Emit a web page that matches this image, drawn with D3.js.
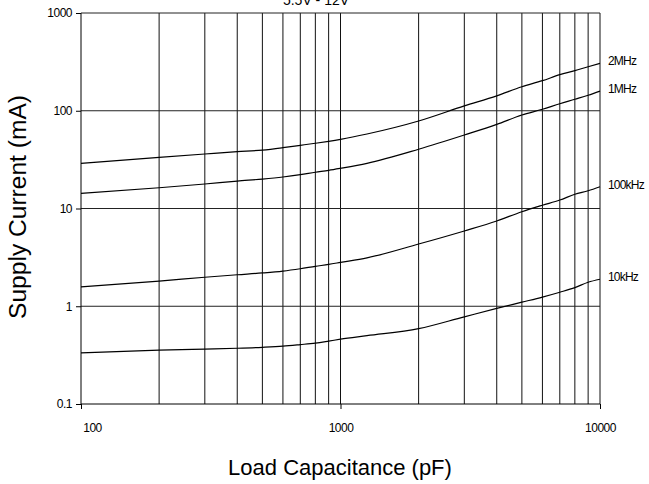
<!DOCTYPE html>
<html>
<head>
<meta charset="utf-8">
<script src="https://cdn.jsdelivr.net/npm/d3@7"></script>
<style>
  body { margin: 0; background: #fff; }
  text { font-family: "Liberation Sans", Arial, sans-serif; fill: #000; }
  .tick text { font-size: 12px; letter-spacing: -0.5px; }
  .axis path, .axis line { stroke: #000; }
</style>
</head>
<body>
<div id="chart"></div>
<script>
// load capacitance (pF)
var capacitance = [100, 200, 300, 400, 500, 600, 700, 800, 900, 1000, 1265, 2000, 3000, 4000, 5000, 6000, 7000, 8000, 9000, 10000];
// supply current (mA) for each frequency
var mhz2   = [29, 33.4, 36.1, 38.1, 39.6, 41.9, 44.3, 46.5, 48.7, 51, 57.8, 78.5, 112, 142, 176, 203, 234, 257, 282, 305];
var mhz1   = [14.3, 16.3, 17.8, 19.1, 20.0, 21.0, 22.2, 23.5, 24.6, 25.8, 29, 40.4, 56.5, 72.6, 90.5, 103.5, 118, 131, 144, 159];
var khz100 = [1.58, 1.81, 1.98, 2.10, 2.19, 2.29, 2.42, 2.56, 2.68, 2.81, 3.13, 4.33, 5.89, 7.45, 9.27, 10.8, 12.2, 14.0, 15.2, 16.7];
var khz10  = [0.333, 0.355, 0.365, 0.372, 0.38, 0.39, 0.405, 0.42, 0.44, 0.46, 0.50, 0.59, 0.78, 0.95, 1.10, 1.24, 1.39, 1.55, 1.76, 1.89];
var seriesNames = ["2MHz", "1MHz", "100kHz", "10kHz"];
var seriesValues = [mhz2, mhz1, khz100, khz10];

var xTicks = [100, 1000, 10000];
var yTicks = [0.1, 1, 10, 100, 1000];
var yTickLabels = ["0.1", "1", "10", "100", "1000"];
var xGrid = [200, 300, 400, 500, 600, 700, 800, 900, 1000, 2000, 3000, 4000, 5000, 6000, 7000, 8000, 9000, 10000];

var margin = {top: 13, right: 49, bottom: 80, left: 81};
var width = 649 - margin.left - margin.right;
var height = 484 - margin.top - margin.bottom;

var svg = d3.select("#chart").append("svg")
  .attr("width", 649)
  .attr("height", 484);

// title, mostly cut off at the top edge as in the source
svg.append("text")
  .attr("x", 316)
  .attr("y", 5)
  .attr("text-anchor", "middle")
  .style("font-size", "14px")
  .text("5.5V - 12V");

var g = svg.append("g")
  .attr("transform", "translate(" + margin.left + "," + margin.top + ")");

var xScale = d3.scaleLog().domain([100, 10000]).range([0, width]);
var yScale = d3.scaleLog().domain([0.1, 1000]).range([height, 0]);

// grid
g.selectAll(".vgrid")
  .data(xGrid)
  .enter().append("line")
  .attr("class", "vgrid")
  .attr("x1", function(d) { return xScale(d); })
  .attr("x2", function(d) { return xScale(d); })
  .attr("y1", 0)
  .attr("y2", height)
  .attr("stroke", "#111")
  .attr("stroke-width", 1);

g.selectAll(".hgrid")
  .data(yTicks.slice(1))
  .enter().append("line")
  .attr("class", "hgrid")
  .attr("x1", 0)
  .attr("x2", width)
  .attr("y1", function(d) { return yScale(d); })
  .attr("y2", function(d) { return yScale(d); })
  .attr("stroke", "#222")
  .attr("stroke-width", 1);

// axes
var xAxis = g.append("g")
  .attr("class", "axis")
  .attr("transform", "translate(0," + height + ")")
  .call(d3.axisBottom(xScale).tickValues(xTicks).tickSize(5).tickPadding(14)
    .tickFormat(d3.format("d")));
xAxis.selectAll(".tick text").filter(function(d) { return d == 100; }).attr("dx", 11);
xAxis.select(".domain").attr("d", "M0,0H" + width);

var yAxis = g.append("g")
  .attr("class", "axis")
  .call(d3.axisLeft(yScale).tickValues(yTicks).tickSize(5).tickPadding(4)
    .tickFormat(function(d, i) { return yTickLabels[i]; }));
yAxis.select(".domain").attr("d", "M0," + height + "V0");

// curves
var line = d3.line()
  .x(function(d) { return xScale(d[0]); })
  .y(function(d) { return yScale(d[1]); })
  .curve(d3.curveMonotoneX);

seriesValues.forEach(function(vals, i) {
  var pts = capacitance.map(function(c, j) { return [c, vals[j]]; });
  g.append("path")
    .datum(pts)
    .attr("fill", "none")
    .attr("stroke", "#000")
    .attr("stroke-width", 1.2)
    .attr("d", line);

  g.append("text")
    .attr("x", width + 8)
    .attr("y", yScale(vals[vals.length - 1]) + 2)
    .style("font-size", "12px")
    .style("letter-spacing", "-0.8px")
    .text(seriesNames[i]);
});

// axis titles
svg.append("text")
  .attr("transform", "translate(26,207) rotate(-90)")
  .attr("text-anchor", "middle")
  .attr("textLength", 224)
  .attr("lengthAdjust", "spacingAndGlyphs")
  .style("font-size", "23px")
  .text("Supply Current (mA)");

svg.append("text")
  .attr("x", 340)
  .attr("y", 475)
  .attr("text-anchor", "middle")
  .style("font-size", "22px")
  .text("Load Capacitance (pF)");
</script>
</body>
</html>
